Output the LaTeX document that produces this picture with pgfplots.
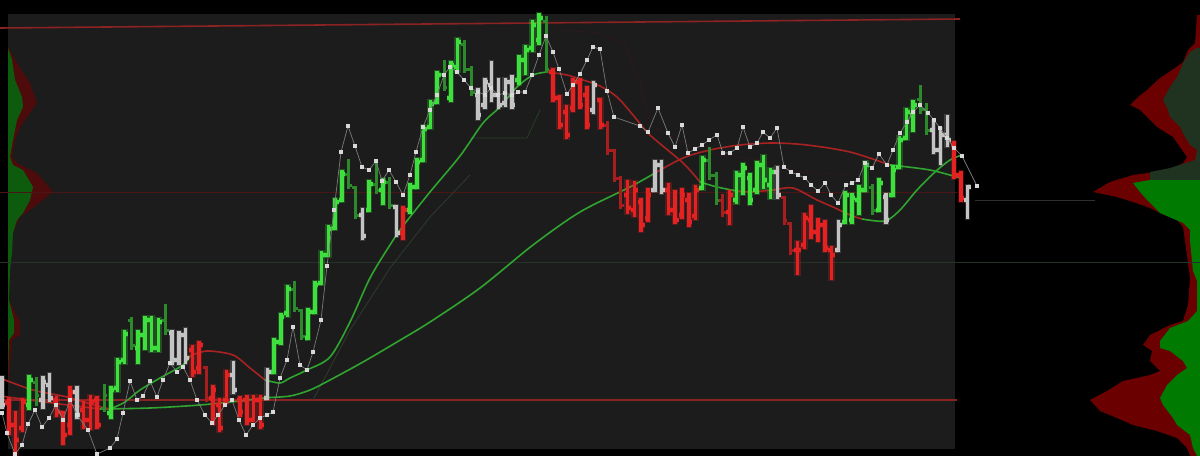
\documentclass[border=0pt]{standalone}
\usepackage{pgfplots}
\usepackage{pgfplotstable}
\pgfplotsset{compat=1.18}
\definecolor{plotbg}{HTML}{1C1C1C}
\definecolor{gnc}{HTML}{3EE03E}
\definecolor{dgc}{HTML}{2C8A2C}
\definecolor{rdc}{HTML}{E52222}
\definecolor{drc}{HTML}{A81D1D}
\definecolor{gyc}{HTML}{C4C4C4}
\definecolor{magreen}{HTML}{2FA52F}
\definecolor{mared}{HTML}{A82222}
\definecolor{dotline}{HTML}{7C7C7C}
\definecolor{dotwhite}{HTML}{D8D8D8}
\definecolor{hred}{HTML}{8C2323}
\definecolor{vred}{HTML}{6B0000}
\definecolor{vdgreen}{HTML}{1F3320}
\definecolor{vgreen}{HTML}{007A00}
\definecolor{lgreen}{HTML}{0D5C0D}
\definecolor{lred}{HTML}{4D0B0B}

\pgfplotstableread{
i o h l c
4 405 377 408 380
16 413 388 417 390
17 388 360 390 362
18 360 332 362 334
20 348 332 362 335
21 335 318 348 320
22 320 318 350 348
23 348 320 350 322
40 372 340 372 342
41 342 315 343 317
42 313 287 315 289
45 338 310 338 312
46 312 283 312 285
47 283 253 283 255
48 255 227 255 229
49 228 200 228 202
50 200 172 200 174
54 210 182 210 184
56 190 180 203 182
60 210 185 212 187
61 187 160 187 162
62 160 127 160 129
63 127 102 127 104
64 102 73 102 75
66 98 63 100 65
67 67 40 70 42
76 80 57 83 60
77 60 47 73 50
78 48 22 50 25
79 40 15 43 18
103 188 158 188 160
108 200 173 202 175
109 175 165 193 168
110 178 175 203 200
111 190 163 192 165
112 165 157 187 180
113 185 170 197 172
124 222 193 222 195
125 220 195 222 198
126 200 187 213 190
127 190 163 190 165
129 210 180 210 183
131 195 167 195 170
132 167 138 167 140
133 138 110 138 112
134 115 102 130 105
}\gnTab

\pgfplotstableread{
i o h l c
5 382 378 404 395
15 408 385 410 395
19 320 318 348 345
24 320 305 333 330
43 289 282 310 308
44 310 310 338 336
51 174 160 187 185
52 187 187 217 215
55 184 160 192 190
57 182 178 207 205
65 75 62 90 88
68 45 42 72 70
69 70 68 95 93
80 22 18 72 70
104 160 148 178 175
105 175 173 203 200
128 187 185 213 210
135 100 87 113 110
136 110 105 133 130
}\dgTab

\pgfplotstableread{
i o h l c
1 403 400 433 425
2 425 413 453 440
3 428 400 430 402
8 400 398 415 412
9 413 413 443 435
10 425 388 433 392
12 410 403 427 420
13 420 397 428 402
14 400 398 427 425
28 350 347 375 372
29 368 343 372 345
31 398 387 423 390
32 405 400 430 428
33 400 372 402 375
35 400 398 415 412
36 400 397 423 420
37 420 397 420 400
38 400 397 427 425
59 233 208 238 210
81 72 70 100 98
82 98 97 127 125
83 112 107 137 135
84 108 80 110 82
85 82 80 107 105
86 95 88 127 125
88 100 100 127 125
92 195 182 212 208
93 210 183 215 190
94 202 200 230 225
95 218 190 220 195
98 190 185 213 210
99 210 192 222 220
100 215 190 217 195
101 200 195 225 222
102 216 187 218 190
107 212 192 223 195
117 250 243 273 250
118 245 215 247 218
119 220 207 237 232
120 232 220 240 225
121 225 222 250 248
122 250 248 278 255
140 145 143 177 175
141 175 173 200 198
}\rdTab

\pgfplotstableread{
i o h l c
30 367 367 400 398
89 125 123 153 150
90 150 150 180 178
91 178 177 207 205
106 200 195 215 212
115 197 197 223 220
116 223 223 253 250
}\drTab

\pgfplotstableread{
i o h l c
0 380 378 407 405
6 400 378 407 382
7 385 375 400 398
11 392 388 417 415
25 333 332 363 360
26 360 333 363 335
27 335 330 362 358
34 375 363 392 390
39 398 370 398 372
53 215 210 238 236
58 207 207 235 233
70 95 90 118 115
71 105 80 107 82
72 85 63 100 95
73 95 80 107 105
74 103 80 105 82
75 82 77 107 105
87 110 83 112 85
96 190 162 190 165
97 165 162 192 190
114 172 168 197 195
123 250 222 250 225
130 197 195 222 220
137 130 122 152 150
138 150 130 163 135
139 135 117 145 140
142 200 187 217 187
}\gyTab

\pgfplotsset{barpart/.style={only marks, mark=*, mark size=0pt, mark options={draw=none, fill=none}}}
% #1 table, #2 colour, #3 line width, #4 opacity
\newcommand{\drawbars}[4]{%
  \addplot[barpart, error bars/.cd, y dir=minus, y explicit, error mark=none,
    error bar style={draw=#2, line width=#3, solid, line cap=rect, draw opacity=#4}]
    table[x=i, y=l, y error expr=\thisrow{l}-\thisrow{h}] {#1};
  \addplot[barpart, error bars/.cd, x dir=minus, x fixed=0.5, error mark=none,
    error bar style={draw=#2, line width=#3, solid, draw opacity=#4}]
    table[x=i, y=o] {#1};
  \addplot[barpart, error bars/.cd, x dir=plus, x fixed=0.5, error mark=none,
    error bar style={draw=#2, line width=#3, solid, draw opacity=#4}]
    table[x=i, y=c] {#1};
}

\pgfplotsset{chartax/.style={at={(0,0)}, anchor=south west, width=600bp, height=228bp,
  scale only axis, ymin=0, ymax=456, y dir=reverse, axis line style={draw=none}, ticks=none}}

\begin{document}
\begin{tikzpicture}
% ---------------- background, profiles, levels, averages (pixel grid)
\begin{axis}[chartax, xmin=0, xmax=1200, axis background/.style={fill=black}]
\addplot[fill=plotbg, draw=none] coordinates {(8,14)(955,14)(955,449)(8,449)} -- cycle;
% right volume profile
\addplot[fill=vred, draw=none] coordinates {(1200,15)(1197,15)(1195,43)(1188,50)(1183,62)(1175,68)(1160,78)(1147,90)(1137,98)(1130,105)(1140,110)(1147,117)(1157,127)(1173,137)(1180,147)(1187,157)(1183,163)(1170,170)(1133,175)(1110,182)(1093,192)(1117,197)(1133,202)(1150,208)(1160,213)(1177,220)(1183,227)(1185,241)(1190,278)(1188,305)(1183,321)(1170,325)(1150,335)(1143,345)(1152,351)(1150,361)(1160,371)(1150,375)(1123,381)(1107,391)(1090,400)(1100,411)(1117,418)(1133,425)(1157,431)(1177,438)(1187,448)(1190,456)(1200,456)} -- cycle;
\addplot[fill=vdgreen, draw=none] coordinates {(1200,48)(1197,48)(1190,52)(1183,63)(1177,77)(1170,87)(1163,100)(1168,110)(1170,117)(1180,127)(1185,137)(1190,145)(1197,150)(1195,160)(1170,168)(1150,172)(1150,180)(1200,180)} -- cycle;
\addplot[fill=vgreen, draw=none] coordinates {(1200,180)(1150,180)(1133,183)(1140,192)(1147,200)(1160,213)(1183,223)(1190,230)(1190,241)(1193,271)(1197,281)(1197,311)(1188,321)(1170,328)(1160,341)(1160,348)(1170,351)(1183,361)(1187,368)(1177,375)(1167,385)(1160,398)(1163,405)(1173,418)(1177,425)(1190,435)(1193,448)(1197,456)(1200,456)} -- cycle;
% left volume profile
\addplot[fill=lred, draw=none] coordinates {(8,47)(17,63)(30,83)(37,103)(30,113)(20,127)(15,140)(12,157)(17,163)(37,173)(53,192)(43,200)(33,208)(20,217)(13,233)(10,267)(9,300)(20,322)(20,335)(12,340)(9,380)(8,380)} -- cycle;
\addplot[fill=lgreen, draw=none] coordinates {(8,48)(12,60)(15,80)(22,97)(23,107)(17,120)(13,140)(10,157)(13,165)(23,170)(33,187)(30,200)(23,213)(17,220)(13,233)(12,253)(10,270)(9,300)(14,320)(14,333)(9,340)(8,380)} -- cycle;
% horizontal levels
\addplot[hred, line width=0.8bp] coordinates {(0,28)(960,19)};
\addplot[hred, line width=0.6bp] coordinates {(0,400)(957,400)};
\addplot[color={rgb,255:red,74;green,21;blue,21}, line width=0.5bp] coordinates {(0,192)(957,192)};
\addplot[color={rgb,255:red,40;green,50;blue,40}, line width=0.5bp] coordinates {(0,262)(1200,262)};
\addplot[color={rgb,255:red,48;green,48;blue,48}, line width=0.4bp] coordinates {(975,200)(1095,200)};
% faint trailing lines
\addplot[color={rgb,255:red,45;green,60;blue,45}, line width=0.4bp] coordinates {(313,400)(350,330)(390,268)(430,217)(470,175)};
\addplot[color={rgb,255:red,40;green,62;blue,40}, line width=0.4bp] coordinates {(470,138)(527,138)(540,110)};
\addplot[color={rgb,255:red,80;green,22;blue,22}, line width=0.4bp, densely dotted] coordinates {(557,30)(600,33)(625,45)(640,80)(650,125)(700,152)(760,160)(800,172)(850,175)};
% long moving average
\addplot[mared, line width=0.8bp, smooth] coordinates {(0,396)(30,400)(60,404)(100,409)};
\addplot[magreen, line width=0.8bp, smooth] coordinates {(100,409)(150,408)(200,405)(240,401)(263,398)(290,396)(310,390)(330,380)(363,362)(397,342)(430,322)(480,288)(533,245)(580,212)(630,187)(655,173)};
\addplot[mared, line width=0.8bp, smooth] coordinates {(655,173)(683,158)(710,150)(740,145)(773,143)(807,145)(850,152)(890,165)};
\addplot[magreen, line width=0.8bp, smooth] coordinates {(890,165)(930,170)(960,178)};
% medium moving average
\addplot[mared, line width=0.8bp, smooth] coordinates {(0,378)(33,390)(67,397)(97,406)(110,409)};
\addplot[magreen, line width=0.8bp, smooth] coordinates {(110,409)(125,402)(140,390)(160,378)(183,365)(190,356)};
\addplot[mared, line width=0.8bp, smooth] coordinates {(190,356)(207,351)(233,355)(250,368)(265,380)};
\addplot[magreen, line width=0.8bp, smooth] coordinates {(265,380)(280,383)(290,378)(307,370)(330,357)(350,322)(370,278)(390,245)(403,226)(430,192)(460,156)(483,123)(500,107)(517,87)(533,75)(547,72)};
\addplot[mared, line width=0.8bp, smooth] coordinates {(547,72)(567,75)(583,80)(600,86)(617,97)(633,115)(650,135)(683,163)(700,182)};
\addplot[magreen, line width=0.8bp, smooth] coordinates {(700,182)(717,187)(737,191)};
\addplot[mared, line width=0.8bp, smooth] coordinates {(737,191)(750,192)(773,190)(793,188)(817,200)(833,207)(850,215)(862,219)};
\addplot[magreen, line width=0.8bp, smooth] coordinates {(862,219)(885,221)(900,210)(917,190)(935,172)(950,160)(962,155)};
\end{axis}
% ---------------- price bars (bar index grid)
\begin{axis}[chartax, xmin=-0.2941, xmax=176.1765]
% soft glow under the bright bars
\drawbars{\rdTab}{rdc}{3.2bp}{0.25}
\drawbars{\gnTab}{gnc}{3.2bp}{0.25}
\drawbars{\gyTab}{gyc}{2.8bp}{0.2}
% bars
\drawbars{\dgTab}{dgc}{1.5bp}{1}
\drawbars{\drTab}{drc}{1.5bp}{1}
\drawbars{\gyTab}{gyc}{1.7bp}{1}
\drawbars{\rdTab}{rdc}{1.8bp}{1}
\drawbars{\gnTab}{gnc}{1.8bp}{1}
\end{axis}
% ---------------- dotted lag line (pixel grid)
\begin{axis}[chartax, xmin=0, xmax=1200]
\addplot[dotline, line width=0.35bp, mark=square*, mark size=0.6bp, mark options={fill=dotwhite, draw=dotwhite}] coordinates {(2,413)(7,433)(15,454)(22,445)(28,424)(35,410)(42,427)(49,418)(56,405)(63,420)(70,400)(77,415)(88,430)(97,454)(110,448)(117,439)(123,413)(130,381)(137,400)(143,396)(150,381)(157,397)(163,380)(170,363)(177,372)(183,367)(190,380)(197,400)(205,415)(212,423)(218,415)(225,405)(232,400)(239,420)(246,435)(253,425)(260,418)(267,415)(273,412)(280,378)(287,360)(293,327)(300,365)(307,370)(313,352)(321,320)(327,266)(334,210)(341,152)(348,126)(355,146)(362,167)(369,170)(376,161)(382,181)(389,170)(396,182)(403,195)(410,175)(416,152)(423,127)(430,110)(437,95)(444,75)(450,67)(457,72)(464,80)(471,88)(478,92)(485,95)(491,88)(498,95)(505,93)(512,95)(518,92)(525,92)(532,75)(539,55)(546,36)(553,52)(559,69)(567,94)(573,85)(580,74)(587,60)(593,47)(600,49)(607,91)(614,117)(640,126)(648,132)(658,108)(668,133)(675,147)(682,125)(688,153)(695,149)(702,145)(709,140)(717,135)(723,153)(730,153)(737,148)(743,127)(750,147)(757,143)(763,132)(770,138)(777,128)(784,167)(791,172)(798,175)(805,178)(811,185)(818,191)(825,183)(831,195)(838,203)(846,185)(852,183)(858,180)(865,163)(872,168)(879,154)(887,165)(893,150)(900,133)(907,122)(913,112)(920,105)(928,113)(934,120)(940,128)(947,138)(954,148)(962,156)(977,186)};
\end{axis}
\end{tikzpicture}
\end{document}
